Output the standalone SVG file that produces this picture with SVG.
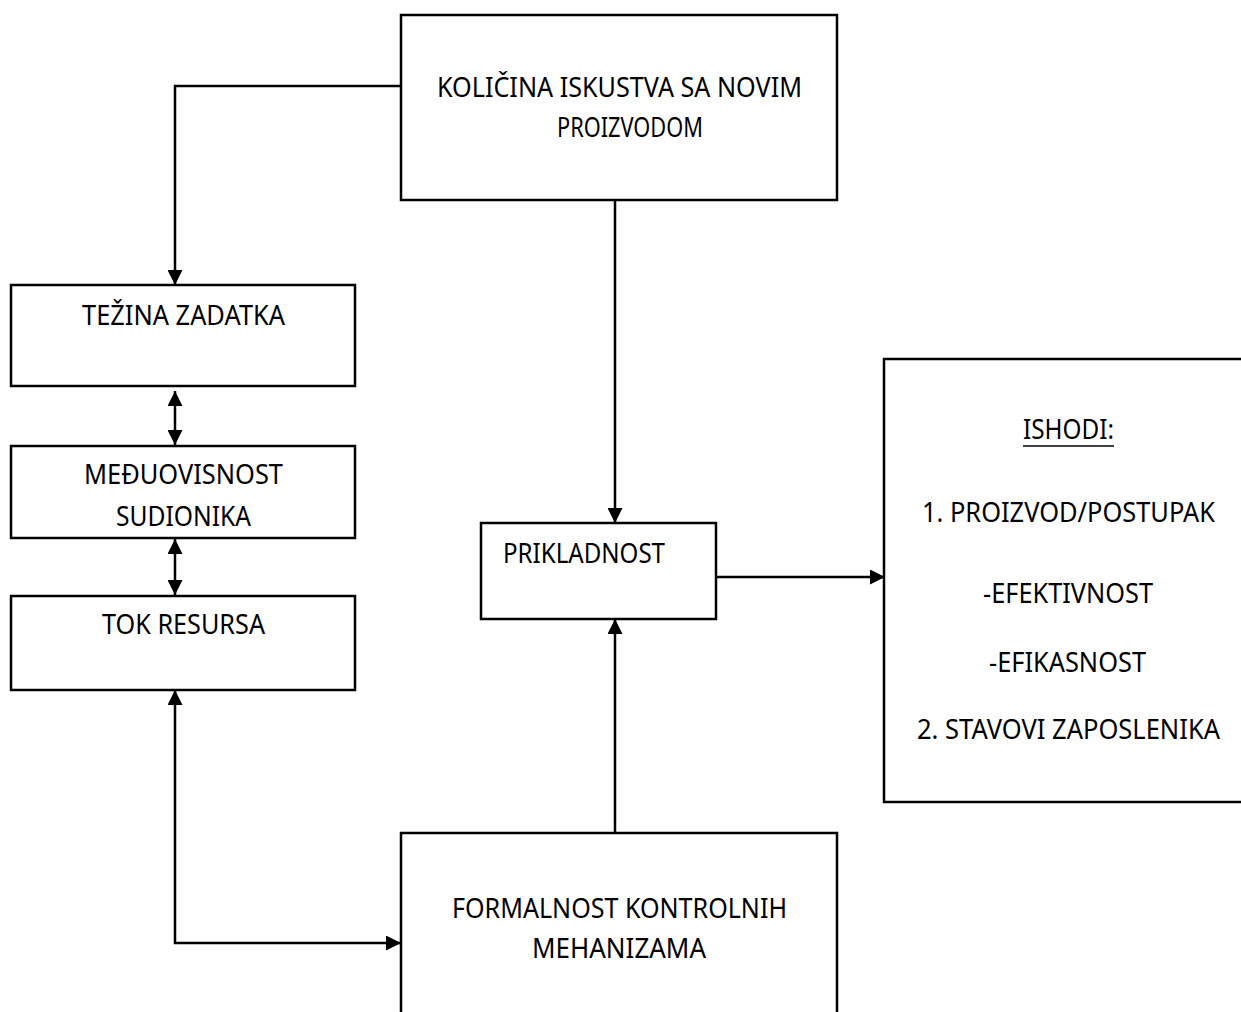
<svg xmlns="http://www.w3.org/2000/svg" width="1241" height="1012" viewBox="0 0 1241 1012">
<defs>
<marker id="ah" markerUnits="userSpaceOnUse" markerWidth="15" markerHeight="15" refX="15" refY="7.5" orient="auto-start-reverse" viewBox="0 0 15 15">
<path d="M0,0 L15,7.5 L0,15 z" fill="#000"/>
</marker>
<style>
.box{fill:#fff;stroke:#000;stroke-width:2.5}
.c{fill:none;stroke:#000;stroke-width:2.5}
text{font-family:"Noto Sans","Open Sans","Liberation Sans",sans-serif;font-size:26.5px;fill:#000}
</style>
</defs>
<rect width="1241" height="1012" fill="#fff"/>
<g id="connectors">
<path class="c" d="M401,86 H175 V285" marker-end="url(#ah)"/>
<path class="c" d="M175,391 V445" marker-start="url(#ah)" marker-end="url(#ah)"/>
<path class="c" d="M175,539 V595" marker-start="url(#ah)" marker-end="url(#ah)"/>
<path class="c" d="M175,690 V943 H401" marker-start="url(#ah)" marker-end="url(#ah)"/>
<path class="c" d="M615,200 V523" marker-end="url(#ah)"/>
<path class="c" d="M615,833 V619" marker-end="url(#ah)"/>
<path class="c" d="M716,577 H885" marker-end="url(#ah)"/>
</g>
<g id="n-kolicina">
<rect class="box" x="401" y="15" width="436" height="185"/>
<text x="437" y="97" textLength="365" lengthAdjust="spacingAndGlyphs">KOLIČINA ISKUSTVA SA NOVIM</text>
<text x="557" y="137" textLength="146" lengthAdjust="spacingAndGlyphs">PROIZVODOM</text>
</g>
<g id="n-tezina">
<rect class="box" x="11" y="285" width="344" height="101"/>
<text x="82" y="325" textLength="203" lengthAdjust="spacingAndGlyphs">TEŽINA ZADATKA</text>
</g>
<g id="n-meduovisnost">
<rect class="box" x="11" y="446" width="344" height="92"/>
<text x="84" y="484" textLength="199" lengthAdjust="spacingAndGlyphs">MEĐUOVISNOST</text>
<text x="116" y="526" textLength="135" lengthAdjust="spacingAndGlyphs">SUDIONIKA</text>
</g>
<g id="n-tok">
<rect class="box" x="11" y="596" width="344" height="94"/>
<text x="102" y="634" textLength="163" lengthAdjust="spacingAndGlyphs">TOK RESURSA</text>
</g>
<g id="n-prikladnost">
<rect class="box" x="481" y="523" width="235" height="96"/>
<text x="503" y="563" textLength="162" lengthAdjust="spacingAndGlyphs">PRIKLADNOST</text>
</g>
<g id="n-ishodi">
<rect class="box" x="884" y="359" width="400" height="443"/>
<text x="1023" y="439" textLength="91" lengthAdjust="spacingAndGlyphs">ISHODI:</text>
<line x1="1023" y1="446" x2="1114" y2="446" stroke="#000" stroke-width="1.5"/>
<text x="922" y="522" textLength="293" lengthAdjust="spacingAndGlyphs">1. PROIZVOD/POSTUPAK</text>
<text x="983" y="603" textLength="170" lengthAdjust="spacingAndGlyphs">-EFEKTIVNOST</text>
<text x="989" y="672" textLength="157" lengthAdjust="spacingAndGlyphs">-EFIKASNOST</text>
<text x="917" y="739" textLength="303" lengthAdjust="spacingAndGlyphs">2. STAVOVI ZAPOSLENIKA</text>
</g>
<g id="n-formalnost">
<rect class="box" x="401" y="833" width="436" height="200"/>
<text x="452" y="918" textLength="335" lengthAdjust="spacingAndGlyphs">FORMALNOST KONTROLNIH</text>
<text x="532" y="958" textLength="174" lengthAdjust="spacingAndGlyphs">MEHANIZAMA</text>
</g>
</svg>
